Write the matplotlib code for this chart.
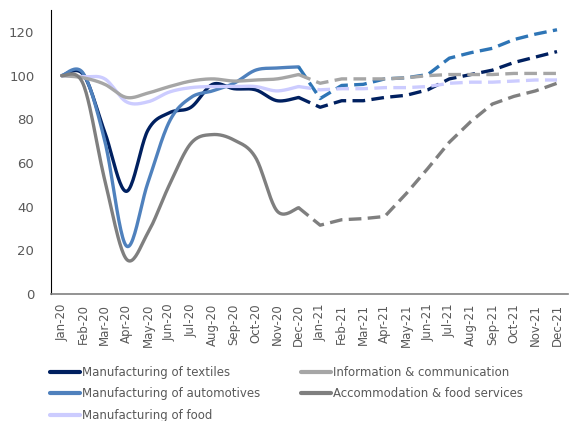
import numpy as np
import matplotlib
matplotlib.use("Agg")
import matplotlib.pyplot as plt

months = ["Jan-20", "Feb-20", "Mar-20", "Apr-20", "May-20", "Jun-20", "Jul-20", "Aug-20",
          "Sep-20", "Oct-20", "Nov-20", "Dec-20", "Jan-21", "Feb-21", "Mar-21", "Apr-21",
          "May-21", "Jun-21", "Jul-21", "Aug-21", "Sep-21", "Oct-21", "Nov-21", "Dec-21"]

# 2020 actuals (Jan-20 .. Dec-20)
textiles_2020 = [100, 100.5, 74, 47, 75, 83, 85.5, 96, 94, 93.5, 88.5, 90]
info_2020 = [100, 99, 96, 90, 92, 95, 97.5, 98.5, 97.5, 98, 98.5, 100.5]
auto_2020 = [100, 101, 70, 22, 51, 79, 90, 93, 96.5, 102.5, 103.5, 104]
accom_2020 = [100, 96, 52, 16, 28, 50, 69, 73, 70.5, 62.5, 38, 39.5]
food_2020 = [100, 99.5, 98.5, 88, 88, 92.5, 94.5, 95, 95, 95, 93, 95]

# Projections (Dec-20 .. Dec-21)
textiles_proj = [90, 85.5, 88.5, 88.5, 90, 91, 93.5, 98.5, 100.5, 102.5, 106, 108.5, 111]
info_proj = [100.5, 96.5, 98.5, 98.5, 98.5, 99, 100, 100.5, 100.5, 100.5, 101, 101, 101]
auto_proj = [104, 89.5, 95.5, 96, 98.5, 99, 100.5, 108, 110.5, 112.5, 116.5, 119, 121]
accom_proj = [39.5, 31.5, 34, 34.5, 35.5, 46, 57.5, 69.5, 79, 87, 90.5, 93, 96.5]
food_proj = [95, 93.5, 94, 94, 94.5, 94.5, 95, 96.5, 97, 97, 97.5, 98, 98]

labels = ["Manufacturing of textiles", "Manufacturing of automotives", "Manufacturing of food",
          "Information & communication", "Accommodation & food services"]
solid_colors = ["#002060", "#4F81BD", "#CCCCFF", "#A6A6A6", "#7F7F7F"]
dash_colors = ["#002060", "#2E75B6", "#CCCCFF", "#A6A6A6", "#7F7F7F"]
actuals = [textiles_2020, auto_2020, food_2020, info_2020, accom_2020]
projections = [textiles_proj, auto_proj, food_proj, info_proj, accom_proj]


def smooth_curve(xs, ys, n=24):
    """Bezier (Catmull-Rom style) smoothing through every point."""
    p = np.column_stack([xs, ys]).astype(float)
    out = [p[0]]
    t = np.linspace(0, 1, n)[1:, None]
    for i in range(len(p) - 1):
        p0 = p[i - 1] if i > 0 else p[i]
        p1, p2 = p[i], p[i + 1]
        p3 = p[i + 2] if i + 2 < len(p) else p[i + 1]
        c1 = p1 + (p2 - p0) / 6.0
        c2 = p2 - (p3 - p1) / 6.0
        seg = ((1 - t) ** 3) * p1 + 3 * ((1 - t) ** 2) * t * c1 + 3 * (1 - t) * t ** 2 * c2 + t ** 3 * p2
        out.extend(seg)
    out = np.array(out)
    return out[:, 0], out[:, 1]


fig = plt.figure(figsize=(5.77, 4.21), dpi=100)
ax = fig.add_axes([0.0884, 0.3017, 0.8956, 0.6743])

x_act = np.arange(12)
x_proj = np.arange(11, 24)
draw_order = [4, 3, 0, 1, 2]
handles = [None] * 5
for k in draw_order:
    sx, sy = smooth_curve(x_act, actuals[k])
    h, = ax.plot(sx, sy, color=solid_colors[k], lw=2.4, solid_capstyle="round",
                 solid_joinstyle="round", label=labels[k], zorder=3 + k * 0.1)
    handles[k] = h
    ax.plot(x_proj, projections[k], color=dash_colors[k], lw=2.4,
            linestyle=(0, (3.8, 1.9)), dash_capstyle="butt", zorder=3 + k * 0.1)

ax.set_xlim(-0.5, 23.5)
ax.set_ylim(0, 130)
ax.set_yticks(range(0, 121, 20))
ax.set_xticks(range(24))
ax.set_xticklabels(months, rotation=90, fontsize=8.5, color="#595959")
ax.tick_params(axis="y", labelsize=9.5, colors="#595959", length=0, pad=12)
ax.tick_params(axis="x", length=0, pad=7)
for side in ("top", "right"):
    ax.spines[side].set_visible(False)
ax.spines["left"].set_color("#000000")
ax.spines["left"].set_linewidth(0.8)
ax.spines["bottom"].set_color("#808080")
ax.spines["bottom"].set_linewidth(1.2)

leg = fig.legend(handles=handles, labels=labels, ncol=2, loc="upper left",
                 bbox_to_anchor=(0.078, 0.142), frameon=False, fontsize=8.5,
                 handlelength=2.6, handletextpad=0.15, columnspacing=3.4,
                 labelspacing=0.72, borderaxespad=0)
for t in leg.get_texts():
    t.set_color("#595959")
for lh in leg.get_lines():
    lh.set_linewidth(3)

fig.savefig("out.png", dpi=100)
